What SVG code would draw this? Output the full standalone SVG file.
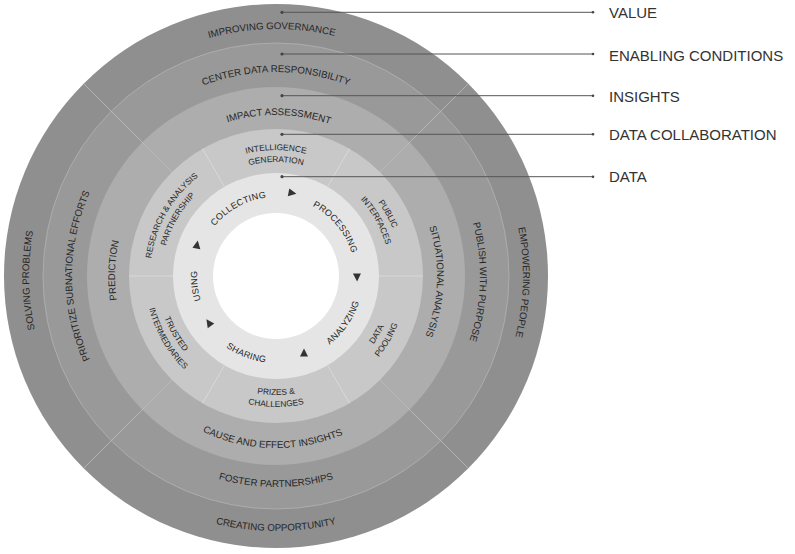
<svg xmlns="http://www.w3.org/2000/svg" width="795" height="554" viewBox="0 0 795 554">
<style>
  text { font-family: "Liberation Sans", Arial, sans-serif; fill: #262626; }
  .rl { font-size: 9.7px; }
  .dc { font-size: 8.4px; }
  .dl { font-size: 9px; letter-spacing: 0.3px; }
  .leg { font-size: 15px; fill: #333; }
  .div { stroke: #bdbdbd; stroke-width: 0.8; }
  .divdc { stroke: #dcdcdc; stroke-width: 0.8; }
  .lead { stroke: #555; stroke-width: 1; fill: none; }
  .dot { fill: #444; }
  .tri { fill: #333; }
</style>
<defs>
  <path id="t247" d="M29.94,254.47 A247,247 0 0 1 522.06,254.47"/>
  <path id="t204" d="M72.78,258.22 A204,204 0 0 1 479.22,258.22"/>
  <path id="t161" d="M115.61,261.97 A161,161 0 0 1 436.39,261.97"/>
  <path id="t126" d="M150.48,265.02 A126,126 0 0 1 401.52,265.02"/>
  <path id="t114" d="M162.43,266.06 A114,114 0 0 1 389.57,266.06"/>
  <path id="t79" d="M197.30,269.11 A79,79 0 0 1 354.70,269.11"/>
  <path id="b255" d="M21.97,298.22 A255,255 0 0 0 530.03,298.22"/>
  <path id="b211" d="M65.80,294.39 A211,211 0 0 0 486.20,294.39"/>
  <path id="b172" d="M104.65,290.99 A172,172 0 0 0 447.35,290.99"/>
  <path id="b119" d="M157.45,286.37 A119,119 0 0 0 394.55,286.37"/>
  <path id="b131" d="M145.50,287.42 A131,131 0 0 0 406.50,287.42"/>
  <path id="b87" d="M189.33,283.58 A87,87 0 0 0 362.67,283.58"/>
</defs>

<g id="ring-value">
  <circle cx="276" cy="276" r="272" fill="#8f8f8f"/>
</g>
<g id="ring-enabling">
  <circle cx="276" cy="276" r="233" fill="#999999" stroke="#b3b3b3" stroke-width="0.8"/>
</g>
<g id="ring-insights">
  <circle cx="276" cy="276" r="189" fill="#adadad"/>
</g>
<g id="ring-collab">
  <circle cx="276" cy="276" r="147" fill="#c8c8c8"/>
</g>
<g id="ring-data">
  <circle cx="276" cy="276" r="103" fill="#e5e5e5"/>
  <circle cx="276" cy="276" r="63" fill="#ffffff"/>
</g>

<g id="dividers">
  <line class="div" x1="379.94" y1="172.06" x2="468.33" y2="83.67"/>
  <line class="div" x1="379.94" y1="379.94" x2="468.33" y2="468.33"/>
  <line class="div" x1="172.06" y1="379.94" x2="83.67" y2="468.33"/>
  <line class="div" x1="172.06" y1="172.06" x2="83.67" y2="83.67"/>
  <line class="divdc" x1="327.5" y1="186.8" x2="349.5" y2="148.7"/>
  <line class="divdc" x1="379" y1="276" x2="423" y2="276"/>
  <line class="divdc" x1="327.5" y1="365.2" x2="349.5" y2="403.3"/>
  <line class="divdc" x1="224.5" y1="365.2" x2="202.5" y2="403.3"/>
  <line class="divdc" x1="173" y1="276" x2="129" y2="276"/>
  <line class="divdc" x1="224.5" y1="186.8" x2="202.5" y2="148.7"/>
</g>

<g id="value-labels">
  <text class="rl" transform="rotate(-1 276 276)"><textPath href="#t247" startOffset="50%" text-anchor="middle">IMPROVING GOVERNANCE</textPath></text>
  <text class="rl" transform="rotate(91.5 276 276)"><textPath href="#t247" startOffset="50%" text-anchor="middle">EMPOWERING PEOPLE</textPath></text>
  <text class="rl"><textPath href="#b255" startOffset="50%" text-anchor="middle">CREATING OPPORTUNITY</textPath></text>
  <text class="rl" transform="rotate(269 276 276)"><textPath href="#t247" startOffset="50%" text-anchor="middle">SOLVING PROBLEMS</textPath></text>
</g>

<g id="enabling-labels">
  <text class="rl"><textPath href="#t204" startOffset="50%" text-anchor="middle">CENTER DATA RESPONSIBILITY</textPath></text>
  <text class="rl" transform="rotate(91.7 276 276)"><textPath href="#t204" startOffset="50%" text-anchor="middle">PUBLISH WITH PURPOSE</textPath></text>
  <text class="rl"><textPath href="#b211" startOffset="50%" text-anchor="middle">FOSTER PARTNERSHIPS</textPath></text>
  <text class="rl" transform="rotate(270 276 276)"><textPath href="#t204" startOffset="50%" text-anchor="middle">PRIORITIZE SUBNATIONAL EFFORTS</textPath></text>
</g>

<g id="insights-labels">
  <text class="rl" transform="rotate(1 276 276)"><textPath href="#t161" startOffset="50%" text-anchor="middle">IMPACT ASSESSMENT</textPath></text>
  <text class="rl" transform="rotate(92 276 276)"><textPath href="#t161" startOffset="50%" text-anchor="middle">SITUATIONAL ANALYSIS</textPath></text>
  <text class="rl" transform="rotate(1.2 276 276)"><textPath href="#b172" startOffset="50%" text-anchor="middle">CAUSE AND EFFECT INSIGHTS</textPath></text>
  <text class="rl" transform="rotate(272 276 276)"><textPath href="#t161" startOffset="50%" text-anchor="middle">PREDICTION</textPath></text>
</g>

<g id="collab-labels">
  <g id="intelligence-generation">
    <text class="dc"><textPath href="#t126" startOffset="50%" text-anchor="middle">INTELLIGENCE</textPath></text>
    <text class="dc"><textPath href="#t114" startOffset="50%" text-anchor="middle">GENERATION</textPath></text>
  </g>
  <g id="public-interfaces" transform="rotate(61 276 276)">
    <text class="dc"><textPath href="#t126" startOffset="50%" text-anchor="middle">PUBLIC</textPath></text>
    <text class="dc"><textPath href="#t114" startOffset="50%" text-anchor="middle">INTERFACES</textPath></text>
  </g>
  <g id="data-pooling" transform="rotate(-60 276 276)">
    <text class="dc"><textPath href="#b119" startOffset="50%" text-anchor="middle">DATA</textPath></text>
    <text class="dc"><textPath href="#b131" startOffset="50%" text-anchor="middle">POOLING</textPath></text>
  </g>
  <g id="prizes-challenges">
    <text class="dc"><textPath href="#b119" startOffset="50%" text-anchor="middle">PRIZES &amp;</textPath></text>
    <text class="dc"><textPath href="#b131" startOffset="50%" text-anchor="middle">CHALLENGES</textPath></text>
  </g>
  <g id="trusted-intermediaries" transform="rotate(60 276 276)">
    <text class="dc"><textPath href="#b119" startOffset="50%" text-anchor="middle">TRUSTED</textPath></text>
    <text class="dc"><textPath href="#b131" startOffset="50%" text-anchor="middle">INTERMEDIARIES</textPath></text>
  </g>
  <g id="research-analysis" transform="rotate(300 276 276)">
    <text class="dc"><textPath href="#t126" startOffset="50%" text-anchor="middle">RESEARCH &amp; ANALYSIS</textPath></text>
    <text class="dc"><textPath href="#t114" startOffset="50%" text-anchor="middle">PARTNERSHIP</textPath></text>
  </g>
</g>

<g id="data-cycle">
  <text class="dl" transform="rotate(-29 276 276)"><textPath href="#t79" startOffset="50%" text-anchor="middle">COLLECTING</textPath></text>
  <text class="dl" transform="rotate(50.5 276 276)"><textPath href="#t79" startOffset="50%" text-anchor="middle">PROCESSING</textPath></text>
  <text class="dl" transform="rotate(-55.3 276 276)"><textPath href="#b87" startOffset="50%" text-anchor="middle">ANALYZING</textPath></text>
  <text class="dl" transform="rotate(20.9 276 276)"><textPath href="#b87" startOffset="50%" text-anchor="middle">SHARING</textPath></text>
  <text class="dl" transform="rotate(263 276 276)"><textPath href="#t79" startOffset="50%" text-anchor="middle">USING</textPath></text>
  <polygon class="tri" points="-3.5,-4 4.5,0 -3.5,4" transform="translate(292 193) rotate(11)"/>
  <polygon class="tri" points="-3.5,-4 4.5,0 -3.5,4" transform="translate(357 277) rotate(89)"/>
  <polygon class="tri" points="-3.5,-4 4.5,0 -3.5,4" transform="translate(304 353) rotate(-90)"/>
  <polygon class="tri" points="-3.5,-4 4.5,0 -3.5,4" transform="translate(209 323) rotate(-125)"/>
  <polygon class="tri" points="-3.5,-4 4.5,0 -3.5,4" transform="translate(197 245) rotate(-80)"/>
</g>

<g id="connectors">
  <line class="lead" x1="282" y1="12.3" x2="593" y2="12.3"/>
  <line class="lead" x1="282" y1="54" x2="593" y2="54"/>
  <line class="lead" x1="282" y1="95.7" x2="593" y2="95.7"/>
  <line class="lead" x1="282" y1="134.3" x2="593" y2="134.3"/>
  <line class="lead" x1="282" y1="176.7" x2="593" y2="176.7"/>
  <circle class="dot" cx="282" cy="12.3" r="1.6"/>
  <circle class="dot" cx="282" cy="54" r="1.6"/>
  <circle class="dot" cx="282" cy="95.7" r="1.6"/>
  <circle class="dot" cx="282" cy="134.3" r="1.6"/>
  <circle class="dot" cx="282" cy="176.7" r="1.6"/>
  <circle class="dot" cx="593" cy="12.3" r="1.3"/>
  <circle class="dot" cx="593" cy="54" r="1.3"/>
  <circle class="dot" cx="593" cy="95.7" r="1.3"/>
  <circle class="dot" cx="593" cy="134.3" r="1.3"/>
  <circle class="dot" cx="593" cy="176.7" r="1.3"/>
</g>

<g id="legend">
  <text class="leg" x="609" y="18">VALUE</text>
  <text class="leg" x="609" y="60.5">ENABLING CONDITIONS</text>
  <text class="leg" x="609" y="101.5">INSIGHTS</text>
  <text class="leg" x="609" y="140">DATA COLLABORATION</text>
  <text class="leg" x="609" y="181.5">DATA</text>
</g>
</svg>
